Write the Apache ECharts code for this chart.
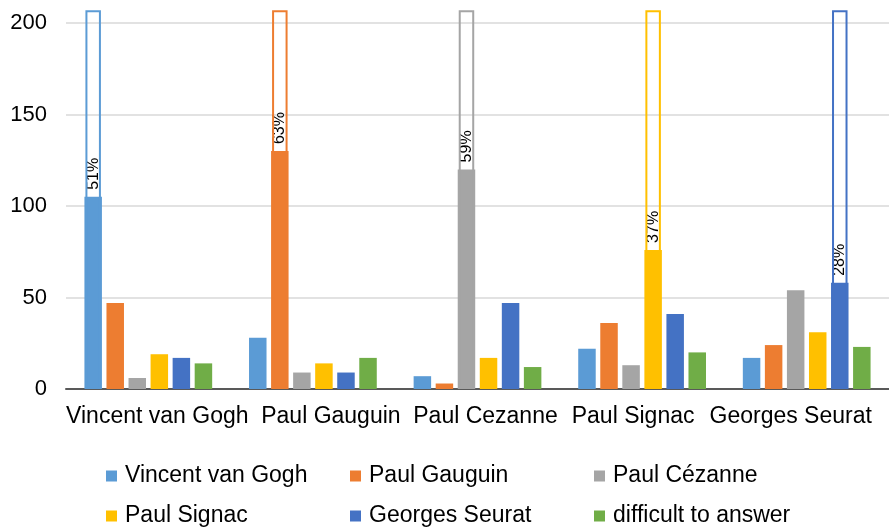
<!DOCTYPE html>
<html>
<head>
<meta charset="utf-8">
<script src="https://cdn.jsdelivr.net/npm/echarts@6/dist/echarts.min.js"></script>
<style>
  html, body { margin: 0; padding: 0; background: #fff; }
  #chart { width: 889px; height: 527px; }
</style>
</head>
<body>
<div id="chart"></div>
<script>
// categories (x axis)
const categories = ['Vincent van Gogh', 'Paul Gauguin', 'Paul Cezanne', 'Paul Signac', 'Georges Seurat'];
// series (legend names)
const seriesNames = ['Vincent van Gogh', 'Paul Gauguin', 'Paul Cézanne', 'Paul Signac', 'Georges Seurat', 'difficult to answer'];
const vanGogh   = [105, 28, 7, 22, 17];
const gauguin   = [47, 130, 3, 36, 24];
const cezanne   = [6, 9, 120, 13, 54];
const signac    = [19, 14, 17, 76, 31];
const seurat    = [17, 9, 47, 41, 58];
const difficult = [14, 17, 12, 20, 23];
// respondents per category (outlined bar) and the share label
const totals = [207, 207, 207, 207, 207];
const shares = ['51%', '63%', '59%', '37%', '28%'];

const colors = ['#5B9BD5', '#ED7D31', '#A5A5A5', '#FFC000', '#4472C4', '#70AD47'];
const font = 'Liberation Sans, Arial, sans-serif';
const values = [vanGogh, gauguin, cezanne, signac, seurat, difficult];

// Excel squeezed the category labels a bit, nudge them (px)
const labelNudge = [9, 18, 8, -9, -16];
const rich = {};
labelNudge.forEach((d, i) => {
  rich['c' + i] = {
    fontSize: 23, fontFamily: font, color: '#000',
    padding: d > 0 ? [0, 0, 0, 2 * d] : [0, -2 * d, 0, 0]
  };
});

let chart = echarts.init(document.getElementById('chart'));

let series = [];
values.forEach((list, i) => {
  series.push({
    name: seriesNames[i],
    type: 'bar',
    xAxisIndex: 0,
    barWidth: 17.5,
    barGap: '26%',
    itemStyle: { color: colors[i] },
    data: list.map((v, j) => {
      if (i !== j) return v;
      return {
        value: v,
        label: {
          show: true,
          formatter: shares[j],
          position: 'top',
          rotate: 90,
          align: 'left',
          verticalAlign: 'middle',
          distance: 7,
          fontSize: 16,
          fontFamily: font,
          color: '#000'
        }
      };
    })
  });
});
// outlined "total" bars, same slots on a hidden twin axis
values.forEach((list, i) => {
  series.push({
    name: 'total ' + seriesNames[i],
    type: 'bar',
    xAxisIndex: 1,
    barWidth: 15.5,
    barGap: '42.26%',
    clip: false,
    silent: true,
    z: 3,
    itemStyle: { color: 'rgba(0,0,0,0)', borderColor: colors[i], borderWidth: 2 },
    data: totals.map((t, j) => (i === j ? t : '-'))
  });
});

let option = {
  animation: false,
  textStyle: { fontFamily: font },
  grid: { left: 66, top: 23, width: 828, height: 366 },
  legend: {
    data: seriesNames,
    left: 101,
    top: 456,
    width: 760,
    icon: 'rect',
    itemWidth: 11,
    itemHeight: 11,
    itemGap: 10,
    textStyle: { fontSize: 23, fontFamily: font, color: '#000', width: 215, lineHeight: 30, overflow: 'none', padding: [0, 0, 0, 3] }
  },
  xAxis: [{
    type: 'category',
    data: categories,
    axisTick: { show: false },
    axisLine: { lineStyle: { color: '#595959', width: 2 } },
    axisLabel: {
      interval: 0,
      margin: 16,
      formatter: (v, idx) => '{c' + idx + '|' + v + '}',
      rich: rich
    }
  }, {
    type: 'category',
    data: categories,
    show: false
  }],
  yAxis: {
    type: 'value',
    min: 0,
    max: 200,
    interval: 50,
    axisLine: { show: false },
    axisTick: { show: false },
    axisLabel: { fontSize: 22, fontFamily: font, color: '#000', margin: 19 },
    splitLine: { lineStyle: { color: '#D9D9D9', width: 1.5 } }
  },
  series: series
};
chart.setOption(option);
</script>
</body>
</html>
